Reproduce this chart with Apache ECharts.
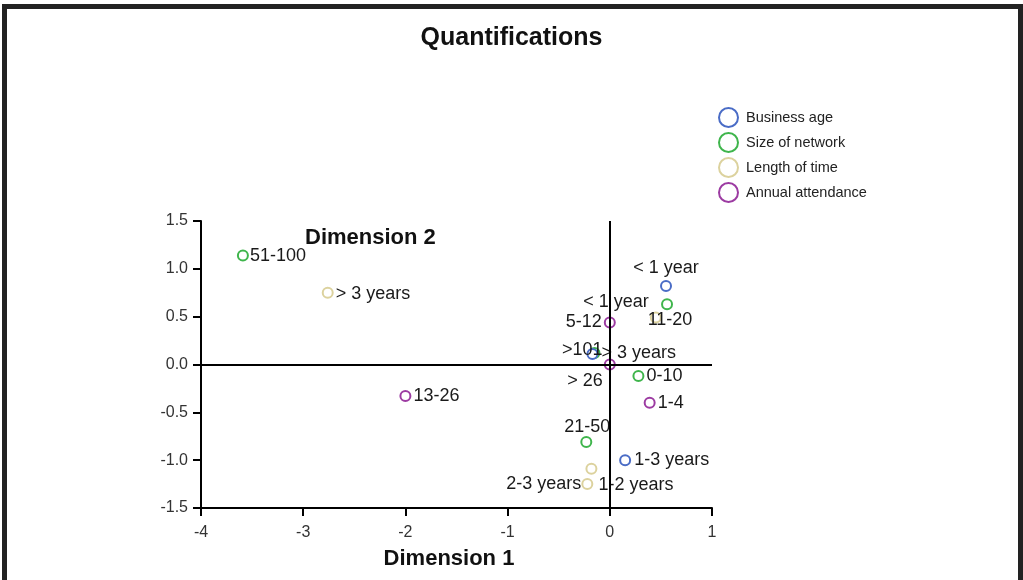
<!DOCTYPE html>
<html>
<head>
<meta charset="utf-8">
<script src="https://cdn.jsdelivr.net/npm/echarts@6/dist/echarts.min.js"></script>
<style>
  html, body { margin: 0; padding: 0; background: #fff; }
  #chart { position: absolute; left: 0; top: 0; width: 1023px; height: 580px; }
  .frame {
    position: absolute; left: 2px; top: 4px; width: 1011px; height: 600px;
    border: 5px solid #222; pointer-events: none;
  }
</style>
</head>
<body>
<div id="chart"></div>
<div class="frame"></div>
<script>
// category quantifications
const businessNames = ["< 1 year", "> 3 years", "1-3 years"];
const businessX = [0.55, -0.17, 0.15];
const businessY = [0.82, 0.11, -1.0];

const networkNames = ["51-100", "11-20", "0-10", "21-50", ">101"];
const networkX = [-3.59, 0.56, 0.28, -0.23, -0.15];
const networkY = [1.14, 0.63, -0.12, -0.81, 0.12];

const timeNames = ["> 3 years", "< 1 year", "1-2 years", "2-3 years"];
const timeX = [-2.76, 0.45, -0.18, -0.22];
const timeY = [0.75, 0.49, -1.09, -1.25];

const attendNames = ["5-12", "> 26", "1-4", "13-26"];
const attendX = [0.0, 0.0, 0.39, -2.0];
const attendY = [0.44, 0.0, -0.40, -0.33];

const xTicks = [-4, 1, 1];      // min, max, interval
const yTicks = [-1.5, 1.5, 0.5];

// where each point's label sits
const businessLabel = [["top", [0, 0]], ["right", [0, -1]], ["right", [0, 0]]];
const networkLabel = [["right", [-2, 1]], ["bottom", [3, -2]], ["right", [-1, 0]], ["top", [1, 3]], ["left", [17, -3]]];
const timeLabel = [["right", [-1, 1]], ["left", [2, -16]], ["right", [-2, 16]], ["left", [3, 0]]];
const attendLabel = [["left", [1, 0]], ["left", [2, 17]], ["right", [-1, 0]], ["right", [-1, 0]]];

const colors = ["#4a6cc6", "#3fb54c", "#dcd29e", "#9c3ba2"];

const makeSeries = (name, names, xs, ys, labels, color) => ({
  name,
  type: "scatter",
  symbol: "circle",
  symbolSize: 10,
  itemStyle: { color: "#fff", borderColor: color, borderWidth: 2, opacity: 1 },
  label: { show: true, color: "#1a1a1a", fontSize: 18, fontFamily: "Liberation Sans, Arial", formatter: "{b}" },
  data: names.map((n, i) => ({
    name: n,
    value: [xs[i], ys[i]],
    label: { position: labels[i][0], offset: labels[i][1], distance: 3 },
  })),
});

const chart = echarts.init(document.getElementById("chart"), null, { renderer: "canvas" });

const series = [
  makeSeries("Size of network", networkNames, networkX, networkY, networkLabel, colors[1]),
  makeSeries("Business age", businessNames, businessX, businessY, businessLabel, colors[0]),
  makeSeries("Length of time", timeNames, timeX, timeY, timeLabel, colors[2]),
  makeSeries("Annual attendance", attendNames, attendX, attendY, attendLabel, colors[3]),
];
series[0].markLine = {
  silent: true,
  symbol: "none",
  label: { show: false },
  lineStyle: { color: "#000", width: 2, type: "solid" },
  data: [{ xAxis: 0 }, { yAxis: 0 }],
};

chart.setOption({
  animation: false,
  textStyle: { fontFamily: "Liberation Sans, Arial" },
  title: {
    text: "Quantifications",
    left: "center",
    top: 21,
    textStyle: { fontSize: 25, fontWeight: "bold", color: "#111" },
  },
  legend: {
    orient: "vertical",
    left: 713,
    top: 102,
    itemWidth: 25,
    itemHeight: 19,
    itemGap: 4,
    icon: "circle",
    data: ["Business age", "Size of network", "Length of time", "Annual attendance"],
    textStyle: { fontSize: 14.5, color: "#222" },
    itemStyle: { color: "#fff", borderWidth: 2 },
  },
  grid: { left: 201, right: 311, top: 221, bottom: 72 },
  xAxis: {
    type: "value",
    min: xTicks[0],
    max: xTicks[1],
    interval: xTicks[2],
    name: "Dimension 1",
    nameLocation: "middle",
    nameGap: 40,
    nameTextStyle: { fontSize: 22, fontWeight: "bold", color: "#111", padding: [0, 15, 0, 0] },
    axisLine: { onZero: false, lineStyle: { color: "#000", width: 2 } },
    axisTick: { length: 8, lineStyle: { color: "#000", width: 2 } },
    axisLabel: { fontSize: 16, color: "#333", margin: 17 },
    splitLine: { show: false },
  },
  yAxis: {
    type: "value",
    min: yTicks[0],
    max: yTicks[1],
    interval: yTicks[2],
    name: "Dimension 2",
    nameLocation: "end",
    nameGap: -17,
    nameTextStyle: { fontSize: 22, fontWeight: "bold", color: "#111", align: "left", verticalAlign: "middle", padding: [0, 0, 0, 104] },
    axisLine: { onZero: false, lineStyle: { color: "#000", width: 2 } },
    axisTick: { length: 8, lineStyle: { color: "#000", width: 2 } },
    axisLabel: { fontSize: 16, color: "#333", margin: 13, formatter: (v) => v.toFixed(1) },
    splitLine: { show: false },
  },
  series,
});
</script>
</body>
</html>
